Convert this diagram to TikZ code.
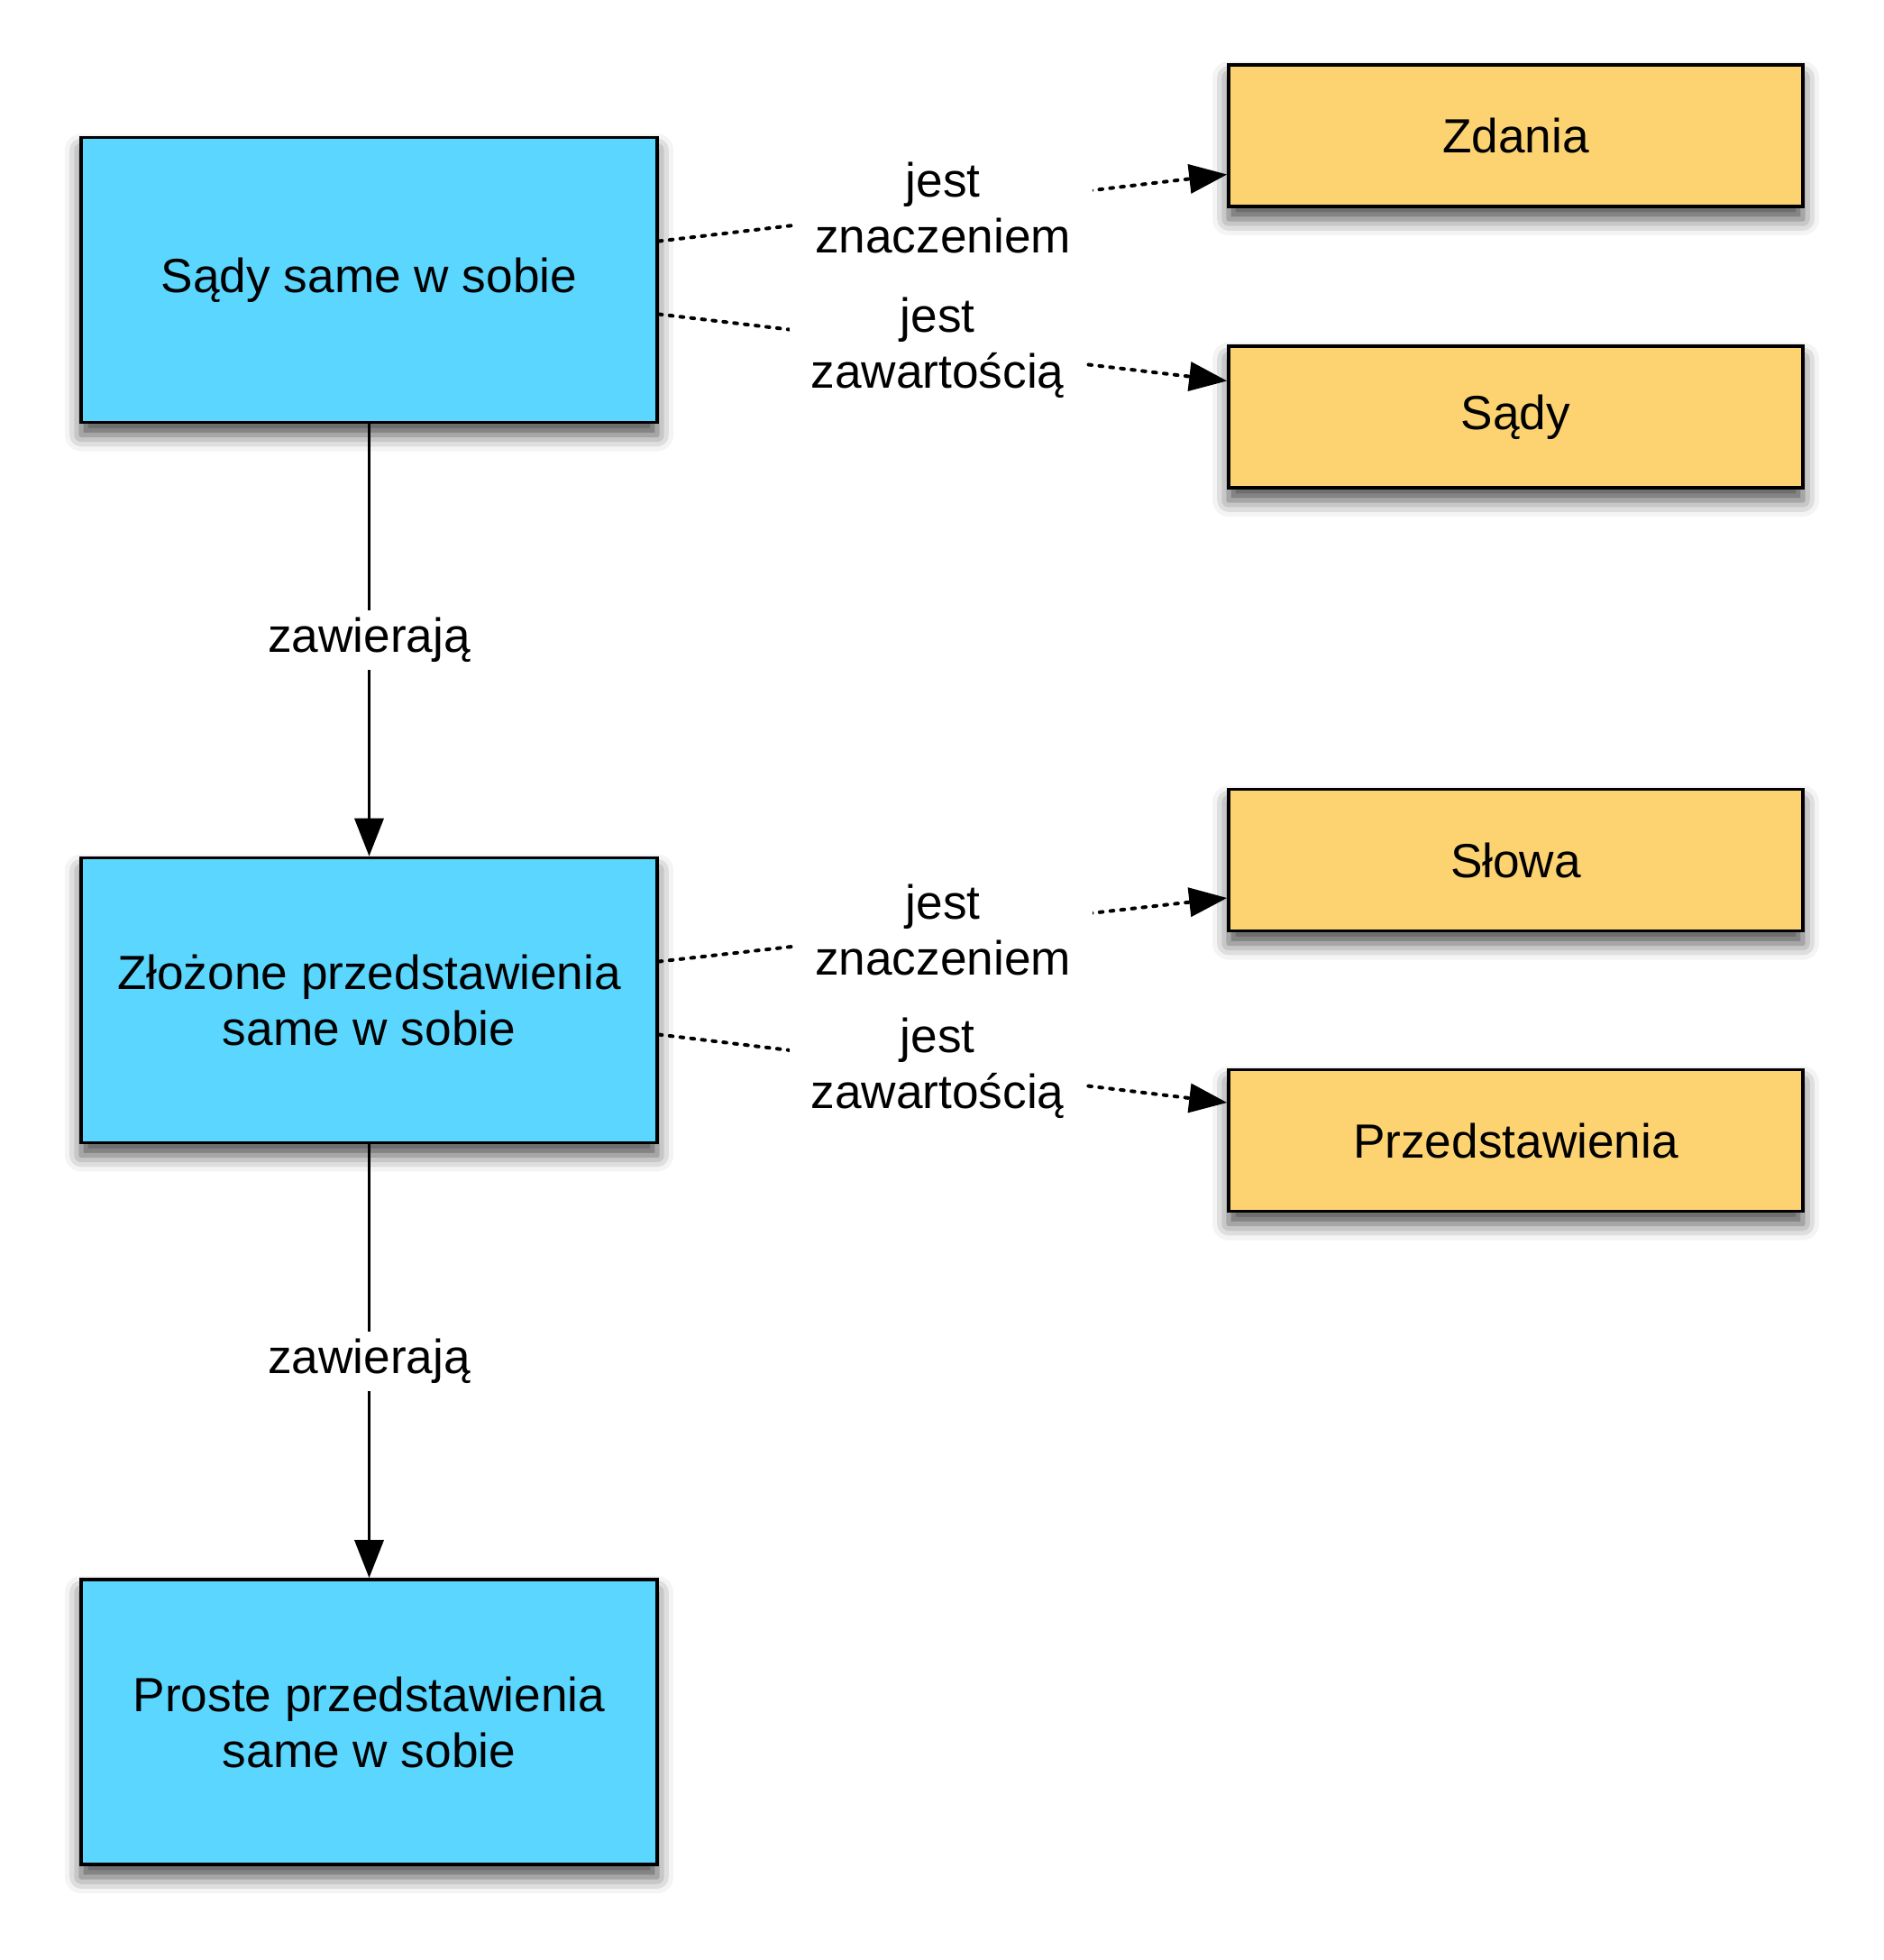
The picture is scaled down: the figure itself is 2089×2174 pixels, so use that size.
\documentclass[tikz,border=0pt]{standalone}
\usepackage{fontspec}
\setmainfont{Liberation Sans}
\usetikzlibrary{arrows.meta,shadows.blur}
\definecolor{boxblue}{RGB}{90,214,255}
\definecolor{boxorange}{RGB}{253,211,114}
\begin{document}
\begin{tikzpicture}[x=0.5pt,y=-0.5pt,
  every node/.style={font=\fontsize{26.6}{31}\selectfont},
  bluebox/.style={draw=black,line width=1.8pt,fill=boxblue,minimum width=319.5pt,minimum height=158pt,align=center,
    blur shadow={shadow xshift=0pt,shadow yshift=-7pt,shadow blur radius=9pt,shadow opacity=70}},
  orangebox/.style={draw=black,line width=1.8pt,fill=boxorange,minimum width=318.5pt,minimum height=78.5pt,align=center,
    blur shadow={shadow xshift=0pt,shadow yshift=-7pt,shadow blur radius=9pt,shadow opacity=70}},
  solidarrow/.style={line width=1.8pt,-{Triangle[length=21pt,width=16pt]}},
  dotarrow/.style={line width=2pt,line cap=round,dash pattern=on 1.8pt off 4.2pt,-{Triangle[length=21pt,width=16pt]}},
  lbl/.style={fill=white,inner xsep=12pt,inner ysep=4pt,align=center}
]
\useasboundingbox (0,0) rectangle (2089,2174);
\node[bluebox] (b1) at (409.5,310.5) {\raisebox{-2pt}{Sądy same w sobie}};
\node[bluebox] (b2) at (409.5,1109.5) {Złożone przedstawienia\\same w sobie};
\node[bluebox] (b3) at (409.5,1910) {Proste przedstawienia\\same w sobie};
\node[orangebox] (o1) at (1681.5,150.5) {Zdania};
\node[orangebox] (o2) at (1681.5,462.5) {\raisebox{-2pt}{Sądy}};
\node[orangebox] (o3) at (1681.5,954) {Słowa};
\node[orangebox] (o4) at (1681.5,1265) {Przedstawienia};

\draw[solidarrow] (b1.south) -- node[lbl] {zawierają} (b2.north);
\draw[solidarrow] (b2.south) -- node[lbl] {zawierają} (b3.north);

\draw[dotarrow] ([yshift=21.5pt]b1.east) -- node[lbl] {jest\\znaczeniem} ([yshift=-21.5pt]o1.west);
\draw[dotarrow] ([yshift=-19pt]b1.east) -- node[lbl,xshift=-3pt] {jest\\zawartością} ([yshift=20pt]o2.west);
\draw[dotarrow] ([yshift=21.5pt]b2.east) -- node[lbl] {jest\\znaczeniem} ([yshift=-21pt]o3.west);
\draw[dotarrow] ([yshift=-19pt]b2.east) -- node[lbl,xshift=-3pt] {jest\\zawartością} ([yshift=21pt]o4.west);
\end{tikzpicture}
\end{document}
